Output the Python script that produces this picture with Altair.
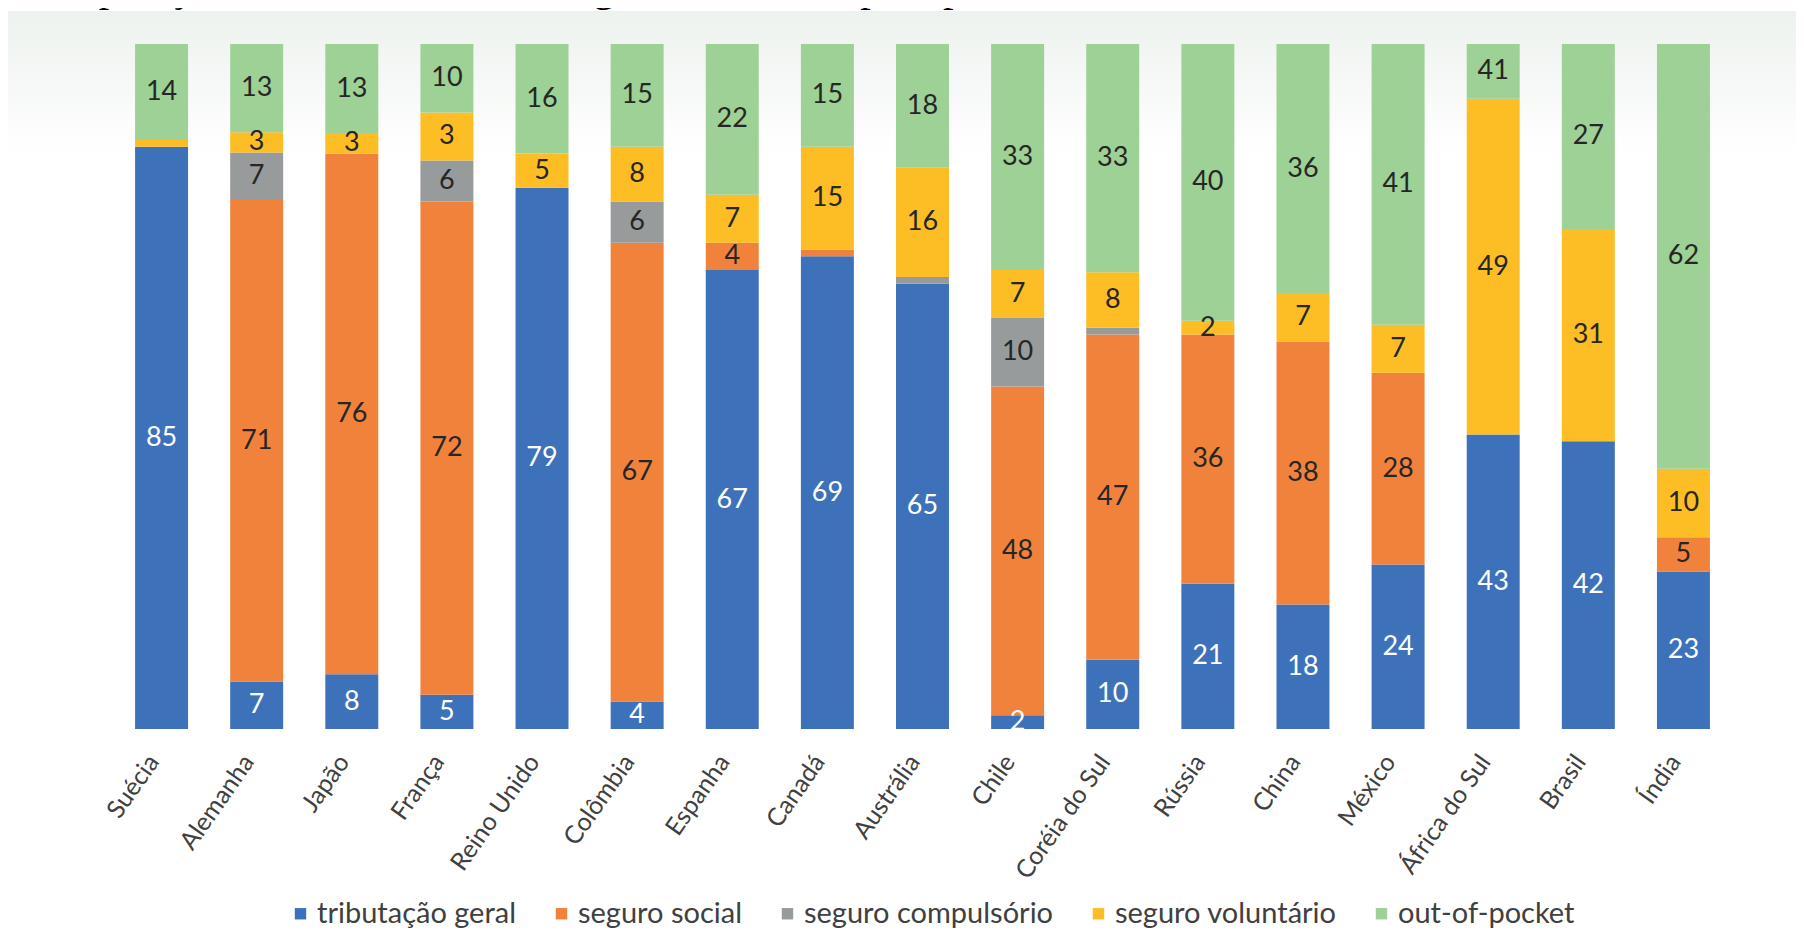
import altair as alt
import pandas as pd

# ---------------- data ----------------
countries = ["Suécia", "Alemanha", "Japão", "França", "Reino Unido", "Colômbia",
             "Espanha", "Canadá", "Austrália", "Chile", "Coréia do Sul", "Rússia",
             "China", "México", "África do Sul", "Brasil", "Índia"]

series = ["tributação geral", "seguro social", "seguro compulsório",
          "seguro voluntário", "out-of-pocket"]

tributacao = [85, 7, 8, 5, 79, 4, 67, 69, 65, 2, 10, 21, 18, 24, 43, 42, 23]
social = [0, 71, 76, 72, 0, 67, 4, 1, 0, 48, 47, 36, 38, 28, 0, 0, 5]
compulsorio = [0, 7, 0, 6, 0, 6, 0, 0, 1, 10, 1, 0, 0, 0, 0, 0, 0]
voluntario = [1, 3, 3, 7, 5, 8, 7, 15, 16, 7, 8, 2, 7, 7, 49, 31, 10]
out_of_pocket = [14, 13, 13, 10, 16, 15, 22, 15, 18, 33, 33, 40, 36, 41, 8, 27, 62]

# labels printed in the original that differ from the drawn segment size
label_overrides = {("França", "seguro voluntário"): 3,
                   ("África do Sul", "out-of-pocket"): 41}

colors = ["#3D72BB", "#F0823C", "#989B9B", "#FDBD25", "#9DD195"]

title_text = "Composição do financiamento do gasto em saúde para países selecionados - 2014"

rows = []
for i, (s, vals) in enumerate(zip(series, [tributacao, social, compulsorio,
                                           voluntario, out_of_pocket])):
    for c, v in zip(countries, vals):
        lab = label_overrides.get((c, s), v)
        rows.append({"pais": c, "fonte": s, "ordem": i, "valor": v,
                     "rotulo": str(lab) if v >= 2 else ""})
df = pd.DataFrame(rows)

FONT = "Lato"

xenc = alt.X("pais:N", sort=countries, title=None,
             scale=alt.Scale(paddingInner=0.443, paddingOuter=0.2215),
             axis=alt.Axis(labelAngle=-55, labelAlign="right", labelBaseline="middle",
                           labelFontSize=25, labelFont=FONT, labelColor="#404040",
                           labelPadding=28, labelOffset=-8,
                           domain=False, ticks=False, grid=False))

base = alt.Chart(df).transform_stack(
    stack="valor", groupby=["pais"], as_=["y0", "y1"], offset="normalize",
    sort=[alt.SortField("ordem", order="ascending")]
).transform_calculate(mid="(datum.y0 + datum.y1) / 2")

yscale = alt.Scale(domain=[0, 1], nice=False)

bars = base.mark_bar().encode(
    x=xenc,
    y=alt.Y("y0:Q", scale=yscale, axis=None),
    y2="y1:Q",
    color=alt.Color("fonte:N", scale=alt.Scale(domain=series, range=colors),
                    legend=alt.Legend(title=None, orient="none", legendX=172, legendY=855,
                                      direction="horizontal", symbolType="square",
                                      symbolSize=130, symbolStrokeWidth=0,
                                      labelFontSize=29, labelFont=FONT,
                                      labelColor="#404040", labelOffset=2,
                                      columnPadding=30, labelLimit=400, padding=0)),
)

labels = base.mark_text(fontSize=27, font=FONT).encode(
    x=alt.X("pais:N", sort=countries),
    y=alt.Y("mid:Q", scale=yscale),
    text="rotulo:N",
    color=alt.condition("datum.fonte === 'tributação geral'",
                        alt.value("#ffffff"), alt.value("#262626")),
)

# light slide background band at the top
bg = alt.Chart(pd.DataFrame({"k": [0]})).mark_rect(
    color=alt.LinearGradient(gradient="linear",
                             stops=[alt.GradientStop(color="#edf2ee", offset=0),
                                    alt.GradientStop(color="#ffffff", offset=1)],
                             x1=0, x2=0, y1=0, y2=1)
).encode(x=alt.value(-110), x2=alt.value(1700), y=alt.value(-33), y2=alt.value(110))

title = alt.Chart(pd.DataFrame({"t": [title_text]})).mark_text(
    font="Liberation Serif", fontSize=42, align="left", baseline="alphabetic",
    color="#000000"
).encode(text="t:N", x=alt.value(-97), y=alt.value(-43))

chart = alt.layer(bg, title, bars, labels).properties(
    width=1617, height=685,
    padding={"left": 106, "top": 36, "right": 65, "bottom": 200},
    autosize="none",
).configure(background="#ffffff").configure_view(stroke=None)

chart.save("out.html", embed_options={"renderer": "svg", "actions": False})
